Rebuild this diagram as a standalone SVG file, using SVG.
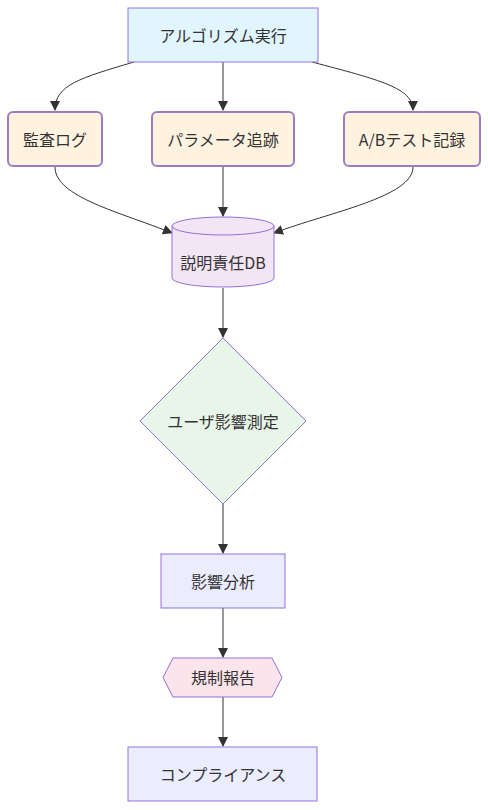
<svg xmlns="http://www.w3.org/2000/svg" width="488" height="810" viewBox="0 0 488 810">
<style>
text{font-family:"Noto Sans CJK JP","Noto Sans",sans-serif;font-size:16px;fill:#333;text-anchor:middle;dominant-baseline:central}
.e{fill:none;stroke:#333;stroke-width:1}
.n{stroke:#9370DB;stroke-width:1}
.o{fill:#fff3e0;stroke:#9c7cc4;stroke-width:2}
</style>
<defs>
<marker id="a" viewBox="0 0 10 10" refX="9" refY="5" markerWidth="10" markerHeight="10" markerUnits="userSpaceOnUse" orient="auto">
<path d="M0,0L10,5L0,10z" fill="#333"/>
</marker>
</defs>
<rect width="488" height="810" fill="#fff"/>
<g id="edges">
<path class="e" d="M134,62C80,78 55,85 55,110" marker-end="url(#a)"/>
<path class="e" d="M223,62L223,110" marker-end="url(#a)"/>
<path class="e" d="M312,62C380,80 413,88 413,110" marker-end="url(#a)"/>
<path class="e" d="M55,167C55,197 120,212 172,233" marker-end="url(#a)"/>
<path class="e" d="M223,167L223,216" marker-end="url(#a)"/>
<path class="e" d="M413,167C413,197 330,212 274,233" marker-end="url(#a)"/>
<path class="e" d="M223,288L223,337" marker-end="url(#a)"/>
<path class="e" d="M223,503L223,553" marker-end="url(#a)"/>
<path class="e" d="M223,608L223,657" marker-end="url(#a)"/>
<path class="e" d="M223,697L223,746" marker-end="url(#a)"/>
</g>
<g id="algo">
<rect class="n" x="128" y="8" width="190" height="54" fill="#e1f5fe"/>
<text x="223" y="35">アルゴリズム実行</text>
</g>
<g id="audit">
<rect class="o" x="8" y="112" width="94" height="54" rx="5"/>
<text x="55" y="139">監査ログ</text>
</g>
<g id="param">
<rect class="o" x="152" y="112" width="142" height="54" rx="5"/>
<text x="223" y="139">パラメータ追跡</text>
</g>
<g id="ab">
<rect class="o" x="344" y="112" width="136" height="54" rx="5"/>
<text x="412" y="139">A/Bテスト記録</text>
</g>
<g id="db">
<path class="n" fill="#f3e5f5" d="M172,226A51,9 0 0 1 274,226L274,278A51,9 0 0 1 172,278Z"/>
<path class="n" fill="none" d="M172,226A51,9 0 0 0 274,226"/>
<text x="223" y="262">説明責任DB</text>
</g>
<g id="impact">
<path class="n" fill="#e8f5e9" d="M223,338L306,421L223,504L140,421Z"/>
<text x="223" y="421">ユーザ影響測定</text>
</g>
<g id="analysis">
<rect class="n" x="161" y="554" width="124" height="54" fill="#ececff"/>
<text x="223" y="581">影響分析</text>
</g>
<g id="report">
<path class="n" fill="#fce4ec" d="M173,658L272,658L282,677.5L272,697L173,697L163,677.5Z"/>
<text x="223" y="677">規制報告</text>
</g>
<g id="compliance">
<rect class="n" x="128" y="747" width="189" height="54" fill="#ececff"/>
<text x="223" y="774">コンプライアンス</text>
</g>
</svg>
